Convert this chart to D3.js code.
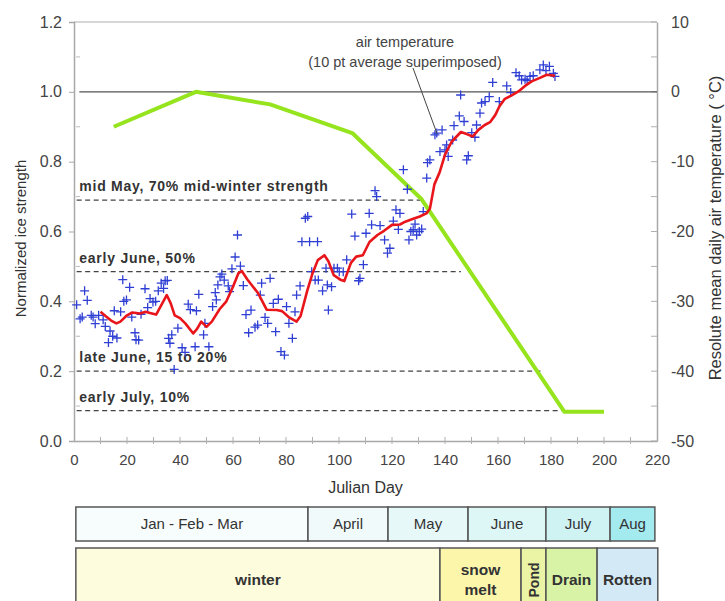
<!DOCTYPE html>
<html lang="en">
<head>
<meta charset="utf-8">
<script src="https://d3js.org/d3.v7.min.js"></script>
<style>
  body { margin: 0; background: #fff; }
  svg text { font-family: "Liberation Sans", Arial, sans-serif; }
  .tick text { font-size: 15px; fill: #444; }
  .axis-y .tick text { font-size: 16px; }
  .tick line, .domain { stroke: #a8a8a8; }
</style>
</head>
<body>
<svg width="725" height="601"></svg>
<script>
// ---- data ----
// daily normalized ice strength [julian day, value]
var iceObs = [
  [1.0,0.390],[2.3,0.350],[3.1,0.355],[4.0,0.430],[5.0,0.403],[6.5,0.360],[7.2,0.355],[8.0,0.336],
  [9.3,0.360],[11.0,0.347],[11.8,0.328],[13.0,0.282],[13.6,0.315],[14.6,0.300],[15.2,0.373],[16.2,0.295],
  [17.6,0.370],[18.4,0.462],[18.8,0.400],[19.8,0.404],[21.0,0.440],[21.8,0.355],[23.0,0.310],[23.4,0.290],
  [24.4,0.289],[25.3,0.363],[26.8,0.436],[27.8,0.382],[28.7,0.408],[29.8,0.398],[30.8,0.400],[31.8,0.430],
  [32.9,0.452],[33.8,0.437],[34.4,0.459],[35.2,0.460],[35.7,0.294],[36.2,0.280],[36.9,0.304],[37.8,0.205],
  [39.2,0.323],[40.8,0.267],[41.9,0.254],[43.1,0.392],[43.9,0.376],[45.7,0.270],[46.2,0.373],[47.1,0.420],
  [48.9,0.304],[49.4,0.337],[50.9,0.270],[52.3,0.385],[53.3,0.425],[53.7,0.404],[54.3,0.447],[55.1,0.470],
  [55.8,0.478],[56.7,0.461],[58.2,0.444],[58.7,0.428],[59.6,0.493],[60.8,0.527],[61.7,0.590],[62.8,0.501],
  [63.9,0.445],[64.9,0.362],[65.9,0.310],[66.8,0.375],[68.3,0.326],[69.3,0.332],[70.3,0.418],[70.8,0.452],
  [72.1,0.354],[73.1,0.337],[74.0,0.466],[75.2,0.394],[76.1,0.313],[77.1,0.406],[78.1,0.256],[79.4,0.246],
  [80.2,0.385],[81.1,0.337],[82.4,0.294],[83.4,0.370],[84.0,0.418],[85.3,0.444],[86.0,0.571],[87.3,0.638],
  [88.2,0.643],[88.9,0.571],[89.7,0.485],[91.0,0.461],[91.9,0.571],[92.2,0.461],[93.8,0.430],[95.1,0.495],
  [95.6,0.447],[96.0,0.375],[97.2,0.442],[98.1,0.495],[99.4,0.495],[100.1,0.485],[101.6,0.485],[102.9,0.519],
  [104.8,0.650],[106.0,0.587],[107.4,0.459],[107.9,0.466],[109.2,0.505],[110.2,0.595],[111.4,0.652],[112.3,0.619],
  [113.6,0.717],[114.2,0.700],[115.5,0.617],[117.2,0.576],[118.3,0.538],[119.2,0.552],[120.5,0.630],[121.5,0.662],
  [122.4,0.606],[123.0,0.652],[124.3,0.777],[125.8,0.721],[126.4,0.576],[127.1,0.600],[128.0,0.605],[128.7,0.621],
  [129.3,0.590],[130.3,0.600],[131.2,0.607],[131.8,0.657],[133.1,0.753],[133.4,0.797],[134.3,0.805],[136.2,0.877],
  [136.9,0.882],[138.1,0.829],[138.9,0.891],[140.0,0.834],[140.6,0.848],[141.2,0.815],[142.9,0.862],[143.4,0.903],
  [145.4,0.931],[145.9,0.991],[147.2,0.915],[148.2,0.805],[148.8,0.817],[150.1,0.883],[151.3,0.870],[151.9,0.905],
  [153.2,0.939],[153.8,0.968],[155.1,0.972],[156.7,0.986],[158.0,1.027],[160.5,0.972],[163.3,1.017],[164.8,0.998],
  [166.8,1.055],[168.0,1.046],[168.9,1.034],[170.2,1.036],[171.0,1.032],[172.1,1.044],[173.3,1.046],[175.8,1.063],
  [177.1,1.077],[178.1,1.061],[179.4,1.073],[180.9,1.053],[181.5,1.044]
];

// 10 pt running average (red line)
var avgDays = [10,12,14,16,17.5,20,22,25,27,29,31,33,35,36.5,38,40,42,45,46.5,48,50,52,55,57.5,60,62,63.3,65.5,
  69.5,72.7,76.5,78.5,81,84,85.5,88,90,92,94.5,96,98,100.5,102,104.5,106.5,109,111.5,114.5,117,120,123,125,
  127.5,130.5,133,134.3,136,138,140,142.5,146,148.2,150.5,152.6,155,157,159,160.5,162.6,165,167.7,170.2,172.7,
  175.8,178.4,181.5];
var avgStrength = [0.370,0.357,0.345,0.337,0.342,0.360,0.368,0.365,0.370,0.366,0.362,0.390,0.418,0.394,0.360,
  0.352,0.337,0.308,0.322,0.342,0.327,0.342,0.378,0.400,0.442,0.480,0.487,0.462,0.423,0.376,0.375,0.372,0.355,
  0.342,0.358,0.430,0.480,0.518,0.532,0.515,0.475,0.462,0.458,0.510,0.528,0.532,0.570,0.590,0.602,0.619,0.620,
  0.628,0.635,0.643,0.652,0.665,0.735,0.770,0.820,0.857,0.885,0.879,0.872,0.891,0.905,0.913,0.934,0.958,0.980,
  0.989,1.001,1.017,1.030,1.040,1.049,1.046];

// Resolute mean daily air temperature (green line)
var tempDays = [15, 46, 74, 105, 131, 185, 200];
var tempValues = [-5, 0, -1.8, -5.9, -15.3, -45.8, -45.8];

// strength thresholds
var thresholdLabels = ["mid May, 70% mid-winter strength", "early June, 50%", "late June, 15 to 20%", "early July, 10%"];
var thresholdValues = [0.69, 0.485, 0.2, 0.087];
var thresholdEnd = [131, 146, 176, 184];

// calendar and ice-stage bars (julian day boundaries)
var monthNames = ["Jan - Feb - Mar", "April", "May", "June", "July", "Aug"];
var monthEdges = [0.7, 88.3, 118.5, 148.7, 178.1, 202.3, 219.2];
var monthColors = ["#f7fcfc", "#f0fafa", "#e7f8f8", "#ddf6f6", "#cff2f3", "#a3ebef"];
var stageNames = ["winter", "snow\nmelt", "Pond", "Drain", "Rotten"];
var stageEdges = [0.7, 138.1, 168.7, 178.1, 197.4, 220.3];
var stageColors = ["#fdfcdc", "#fcf6ab", "#eaf4a4", "#d8f3a6", "#d3eaf6"];

var strengthTicks = d3.range(0, 1.21, 0.2);
var tempTicks = d3.range(-50, 11, 10);
var dayTicks = d3.range(0, 221, 20);

// ---- layout ----
var svg = d3.select("svg"),
    margin = {top: 22, left: 74},
    width = 583,
    height = 419;

var x = d3.scaleLinear().domain([0, 220]).range([0, width]);
var y = d3.scaleLinear().domain([0, 1.2]).range([height, 0]);
var yT = d3.scaleLinear().domain([-50, 10]).range([height, 0]);

var g = svg.append("g")
    .attr("transform", "translate(" + margin.left + "," + margin.top + ")");

// top frame line
g.append("line").attr("x1", 0).attr("x2", width).attr("y1", 0).attr("y2", 0)
    .attr("stroke", "#b0b0b0").attr("stroke-width", 1.2);

// left axis
g.append("g")
    .attr("class", "axis-y")
    .call(d3.axisLeft(y).tickValues(strengthTicks).tickFormat(d3.format(".1f")).tickSize(5).tickPadding(7));
g.append("g").selectAll("line")
    .data(d3.range(0.1, 1.2, 0.2))
  .enter().append("line")
    .attr("x1", 2).attr("x2", 6)
    .attr("y1", function(d) { return y(d); }).attr("y2", function(d) { return y(d); })
    .attr("stroke", "#bbb");

// right axis (plain hyphen for negatives, as in the original)
g.append("g")
    .attr("class", "axis-y")
    .attr("transform", "translate(" + width + ",0)")
    .call(d3.axisRight(yT).tickValues(tempTicks).tickFormat(function(d) { return String(d); })
      .tickSize(0).tickPadding(14));
g.append("g").selectAll("line")
    .data(d3.range(-50, 11, 5))
  .enter().append("line")
    .attr("x1", width - 6).attr("x2", width)
    .attr("y1", function(d) { return yT(d); }).attr("y2", function(d) { return yT(d); })
    .attr("stroke", "#b0b0b0");

// bottom axis
g.append("g")
    .attr("transform", "translate(0," + height + ")")
    .call(d3.axisBottom(x).tickValues(dayTicks).tickSize(0).tickPadding(13));
g.append("g").selectAll("line")
    .data(d3.range(10, 220, 10))
  .enter().append("line")
    .attr("x1", function(d) { return x(d); }).attr("x2", function(d) { return x(d); })
    .attr("y1", height - 4).attr("y2", height + 3)
    .attr("stroke", "#b0b0b0");

g.selectAll(".domain").attr("stroke-width", 1.5);

// 1.0 reference line
g.append("line")
    .attr("x1", x(2)).attr("x2", width)
    .attr("y1", y(1)).attr("y2", y(1))
    .attr("stroke", "#555").attr("stroke-width", 1.2);

// thresholds
thresholdValues.forEach(function(v, i) {
  g.append("line")
      .attr("x1", x(1)).attr("x2", x(thresholdEnd[i]))
      .attr("y1", y(v)).attr("y2", y(v))
      .attr("stroke", "#444").attr("stroke-width", 1.3)
      .attr("stroke-dasharray", "5,3.5");
  g.append("text")
      .attr("x", x(2))
      .attr("y", y(v) - 9)
      .attr("font-size", 14)
      .attr("font-weight", "bold")
      .attr("letter-spacing", 0.75)
      .attr("fill", "#333")
      .text(thresholdLabels[i]);
});

// air temperature
var tempLine = d3.line()
    .x(function(d, i) { return x(tempDays[i]); })
    .y(function(d) { return yT(d); });
g.append("path")
    .datum(tempValues)
    .attr("d", tempLine)
    .attr("fill", "none")
    .attr("stroke", "#95e41e")
    .attr("stroke-width", 4)
    .attr("stroke-linejoin", "round");

// observations
g.append("g").selectAll("path")
    .data(iceObs)
  .enter().append("path")
    .attr("transform", function(d) { return "translate(" + x(d[0]) + "," + y(d[1]) + ")"; })
    .attr("d", "M-4.5,0H4.5M0,-4.5V4.5")
    .attr("stroke", "#2f3fd4")
    .attr("stroke-width", 1.3);

// running average
var avgLine = d3.line()
    .x(function(d, i) { return x(avgDays[i]); })
    .y(function(d) { return y(d); });
g.append("path")
    .datum(avgStrength)
    .attr("d", avgLine)
    .attr("fill", "none")
    .attr("stroke", "#e8161b")
    .attr("stroke-width", 2.6)
    .attr("stroke-linejoin", "round");

// annotation
g.append("text").attr("x", 331).attr("y", 25).attr("text-anchor", "middle")
    .attr("font-size", 14.5).attr("fill", "#444").text("air temperature");
g.append("text").attr("x", 331).attr("y", 45).attr("text-anchor", "middle")
    .attr("font-size", 14.5).attr("fill", "#444").text("(10 pt average superimposed)");
g.append("line")
    .attr("x1", 339).attr("y1", 46)
    .attr("x2", x(137)).attr("y2", y(0.88))
    .attr("stroke", "#444").attr("stroke-width", 1);

// axis titles
svg.append("text")
    .attr("transform", "translate(26," + (margin.top + y(0.58)) + ") rotate(-90)")
    .attr("text-anchor", "middle").attr("font-size", 15).attr("fill", "#333")
    .text("Normalized ice strength");
svg.append("text")
    .attr("transform", "translate(721," + (margin.top + yT(-19.5)) + ") rotate(-90)")
    .attr("text-anchor", "middle").attr("font-size", 16.5).attr("fill", "#333")
    .text("Resolute mean daily air temperature ( \u00B0C)");
svg.append("text")
    .attr("x", margin.left + x(110)).attr("y", 493)
    .attr("text-anchor", "middle").attr("font-size", 16).attr("fill", "#333")
    .text("Julian Day");

// month bar
var mTop = 507, mH = 34;
monthNames.forEach(function(name, i) {
  var x0 = margin.left + x(monthEdges[i]), x1 = margin.left + x(monthEdges[i + 1]);
  svg.append("rect")
      .attr("x", x0).attr("y", mTop).attr("width", x1 - x0).attr("height", mH)
      .attr("fill", monthColors[i]).attr("stroke", "#555").attr("stroke-width", 1.5);
  svg.append("text")
      .attr("x", (x0 + x1) / 2).attr("y", mTop + mH / 2 + 5)
      .attr("text-anchor", "middle").attr("font-size", 15).attr("fill", "#333")
      .text(name);
});

// ice stage bar
var sTop = 548, sH = 70;
stageNames.forEach(function(name, i) {
  var x0 = margin.left + x(stageEdges[i]), x1 = margin.left + x(stageEdges[i + 1]);
  var cx = (x0 + x1) / 2, cy = 580;
  svg.append("rect")
      .attr("x", x0).attr("y", sTop).attr("width", x1 - x0).attr("height", sH)
      .attr("fill", stageColors[i]).attr("stroke", "#555").attr("stroke-width", 1.5);
  var t = svg.append("text")
      .attr("text-anchor", "middle").attr("font-size", name === "Pond" ? 14 : 15.5)
      .attr("font-weight", "bold").attr("fill", "#333");
  if (name === "Pond") {
    t.attr("transform", "translate(" + (cx + 5) + "," + cy + ") rotate(-90)").text(name);
  } else {
    var lines = name.split("\n");
    lines.forEach(function(s, j) {
      t.append("tspan").attr("x", cx)
        .attr("y", cy + 5 + (j - (lines.length - 1) / 2) * 20)
        .text(s);
    });
  }
});
</script>
</body>
</html>
